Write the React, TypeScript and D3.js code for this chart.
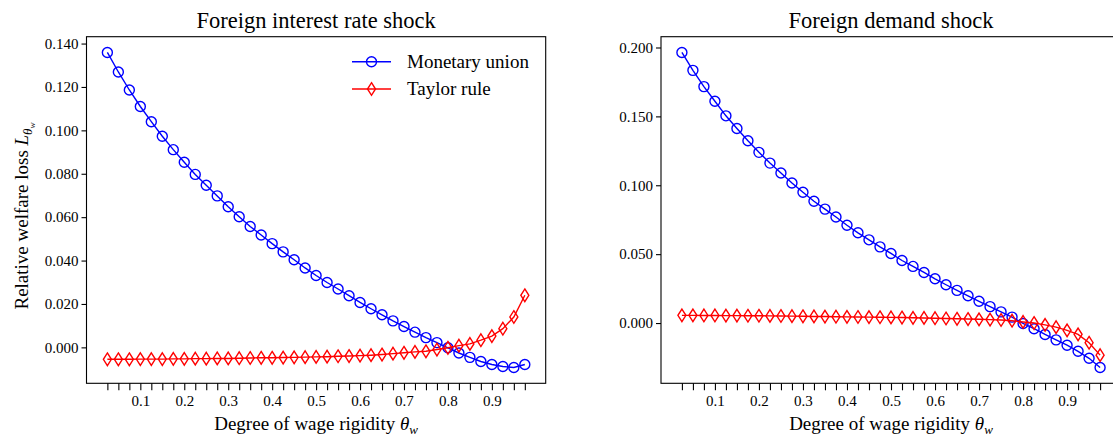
import React, { useRef, useEffect } from "react";
import * as d3 from "d3";

// degree of wage rigidity grid (x values)
const theta = [
  0.025, 0.05, 0.075, 0.1, 0.125, 0.15, 0.175, 0.2, 0.225, 0.25,
  0.275, 0.3, 0.325, 0.35, 0.375, 0.4, 0.425, 0.45, 0.475, 0.5,
  0.525, 0.55, 0.575, 0.6, 0.625, 0.65, 0.675, 0.7, 0.725, 0.75,
  0.775, 0.8, 0.825, 0.85, 0.875, 0.9, 0.925, 0.95, 0.975,
];

// foreign interest rate shock
const rateMonetary = [
  0.1359, 0.1269, 0.1186, 0.111, 0.104, 0.0973, 0.0911, 0.0853, 0.0797, 0.0747,
  0.0698, 0.0648, 0.0602, 0.0557, 0.0518, 0.0478, 0.044, 0.0404, 0.0366, 0.0331,
  0.0299, 0.0269, 0.0238, 0.0207, 0.0178, 0.015, 0.0122, 0.0096, 0.007, 0.0045,
  0.0022, -0.0002, -0.0026, -0.0046, -0.0065, -0.0079, -0.0088, -0.0093, -0.0079,
];
const rateTaylor = [
  -0.0055, -0.0055, -0.0055, -0.0054, -0.0054, -0.0054, -0.0053, -0.0053, -0.0052, -0.0052,
  -0.0051, -0.0051, -0.005, -0.0049, -0.0048, -0.0048, -0.0047, -0.0046, -0.0045, -0.0044,
  -0.0043, -0.0041, -0.004, -0.0038, -0.0036, -0.0033, -0.0029, -0.0025, -0.0021, -0.0018,
  -0.001, -0.0002, 0.0008, 0.0016, 0.0033, 0.0052, 0.0086, 0.014, 0.024,
];

// foreign demand shock
const demandMonetary = [
  0.1964, 0.1834, 0.1716, 0.161, 0.1504, 0.1412, 0.1323, 0.1239, 0.1161, 0.1089,
  0.1017, 0.0949, 0.0884, 0.0827, 0.077, 0.071, 0.0655, 0.0604, 0.0553, 0.0505,
  0.0454, 0.0411, 0.0367, 0.0321, 0.0278, 0.0237, 0.0198, 0.0158, 0.0119, 0.0081,
  0.0043, -0.0003, -0.0041, -0.0083, -0.0122, -0.0161, -0.0205, -0.0256, -0.0323,
];
const demandTaylor = [
  0.0056, 0.0056, 0.0055, 0.0055, 0.0054, 0.0054, 0.0053, 0.0053, 0.0052, 0.0051,
  0.005, 0.0049, 0.0048, 0.0047, 0.0046, 0.0045, 0.0044, 0.0043, 0.0042, 0.0041,
  0.004, 0.0038, 0.0037, 0.0035, 0.0033, 0.0031, 0.0029, 0.0027, 0.0025, 0.0022,
  0.0017, 0.0008, 0.0, -0.0013, -0.003, -0.0053, -0.0082, -0.0143, -0.0233,
];

const xLabelTicks = [0.1, 0.2, 0.3, 0.4, 0.5, 0.6, 0.7, 0.8, 0.9];
const rateYTicks = [0, 0.02, 0.04, 0.06, 0.08, 0.1, 0.12, 0.14];
const demandYTicks = [0, 0.05, 0.1, 0.15, 0.2];
const seriesNames = ["Monetary union", "Taylor rule"];
const panelTitles = ["Foreign interest rate shock", "Foreign demand shock"];

const FONT = "'Liberation Serif', 'Times New Roman', serif";
const BLUE = "#0000ff";
const RED = "#ff0000";
const TOP = 36.7;
const BOTTOM = 383.3;

const diamond = (h, w) => `M0,${-h}L${w},0L0,${h}L${-w},0Z`;

function drawPanel(g, { left, right, title, blue, red, yTicks, legend, yLabel }) {
  const all = blue.concat(red);
  const lo = d3.min(all), hi = d3.max(all);
  const pad = (hi - lo) * 0.05;
  const xPad = (theta[theta.length - 1] - theta[0]) * 0.05;

  const x = d3.scaleLinear()
    .domain([theta[0] - xPad, theta[theta.length - 1] + xPad])
    .range([left, right]);
  const y = d3.scaleLinear().domain([lo - pad, hi + pad]).range([BOTTOM, TOP]);

  // frame
  g.append("rect")
    .attr("x", left).attr("y", TOP)
    .attr("width", right - left).attr("height", BOTTOM - TOP)
    .attr("fill", "none").attr("stroke", "#000").attr("stroke-width", 1.1);

  // y axis
  const yAxis = g.append("g")
    .attr("transform", `translate(${left},0)`)
    .call(d3.axisLeft(y).tickValues(yTicks).tickFormat(d3.format(".3f"))
      .tickSize(5).tickPadding(3));
  yAxis.select(".domain").remove();
  yAxis.selectAll("text").attr("font-family", FONT).attr("font-size", 15).attr("fill", "#000");
  yAxis.selectAll("line").attr("stroke-width", 1.1);

  // x axis: a tick at every grid point, labels only at 0.1 steps
  const xAxis = g.append("g")
    .attr("transform", `translate(0,${BOTTOM})`)
    .call(d3.axisBottom(x).tickValues(theta)
      .tickFormat(d => (xLabelTicks.some(v => Math.abs(v - d) < 1e-9) ? d3.format(".1f")(d) : ""))
      .tickSize(7).tickPadding(5));
  xAxis.select(".domain").remove();
  xAxis.selectAll("text").attr("font-family", FONT).attr("font-size", 15).attr("fill", "#000");
  xAxis.selectAll("line").attr("stroke-width", 1.1);

  // title
  g.append("text")
    .attr("x", (left + right) / 2).attr("y", 28)
    .attr("text-anchor", "middle")
    .attr("font-family", FONT).attr("font-size", 22.5)
    .text(title);

  // x label
  const xl = g.append("text")
    .attr("x", (left + right) / 2).attr("y", 430)
    .attr("text-anchor", "middle")
    .attr("font-family", FONT).attr("font-size", 19);
  xl.append("tspan").text("Degree of wage rigidity ");
  xl.append("tspan").attr("font-style", "italic").text("θ");
  xl.append("tspan").attr("font-style", "italic").attr("font-size", 13).attr("dy", 4).text("w");

  if (yLabel) {
    const yl = g.append("text")
      .attr("transform", `translate(28,${(TOP + BOTTOM) / 2 + 6}) rotate(-90)`)
      .attr("text-anchor", "middle")
      .attr("font-family", FONT).attr("font-size", 19);
    yl.append("tspan").text("Relative welfare loss ");
    yl.append("tspan").attr("font-style", "italic").text("L");
    yl.append("tspan").attr("font-style", "italic").attr("font-size", 13).attr("dy", 4).text("θ");
    yl.append("tspan").attr("font-style", "italic").attr("font-size", 9).attr("dy", 3).text("w");
  }

  const line = d3.line().x((d, i) => x(theta[i])).y(d => y(d));

  // blue: monetary union
  g.append("path").attr("d", line(blue))
    .attr("fill", "none").attr("stroke", BLUE).attr("stroke-width", 1.4);
  g.selectAll(".mu").data(blue).join("circle")
    .attr("class", "mu")
    .attr("cx", (d, i) => x(theta[i])).attr("cy", d => y(d))
    .attr("r", 5).attr("fill", "none").attr("stroke", BLUE).attr("stroke-width", 1.4);

  // red: taylor rule
  g.append("path").attr("d", line(red))
    .attr("fill", "none").attr("stroke", RED).attr("stroke-width", 1.4);
  g.selectAll(".tr").data(red).join("path")
    .attr("class", "tr")
    .attr("transform", (d, i) => `translate(${x(theta[i])},${y(d)})`)
    .attr("d", diamond(6.3, 4))
    .attr("fill", "none").attr("stroke", RED).attr("stroke-width", 1.4);

  if (legend) {
    const rows = [
      { name: seriesNames[0], color: BLUE, circle: true, yy: 61.7 },
      { name: seriesNames[1], color: RED, circle: false, yy: 89 },
    ];
    rows.forEach(r => {
      const lg = g.append("g");
      lg.append("line").attr("x1", 352).attr("x2", 391).attr("y1", r.yy).attr("y2", r.yy)
        .attr("stroke", r.color).attr("stroke-width", 1.4);
      if (r.circle) {
        lg.append("circle").attr("cx", 371.5).attr("cy", r.yy).attr("r", 5)
          .attr("fill", "none").attr("stroke", r.color).attr("stroke-width", 1.4);
      } else {
        lg.append("path").attr("transform", `translate(371.5,${r.yy})`).attr("d", diamond(6.3, 4))
          .attr("fill", "none").attr("stroke", r.color).attr("stroke-width", 1.4);
      }
      lg.append("text").attr("x", 407).attr("y", r.yy + 6)
        .attr("font-family", FONT).attr("font-size", 19).text(r.name);
    });
  }
}

const App = () => {
  const svgRef = useRef(null);

  useEffect(() => {
    const svg = d3.select(svgRef.current);
    svg.selectAll("*").remove();
    drawPanel(svg.append("g"), {
      left: 86.5, right: 545.7, title: panelTitles[0],
      blue: rateMonetary, red: rateTaylor, yTicks: rateYTicks, legend: true, yLabel: true,
    });
    drawPanel(svg.append("g"), {
      left: 661, right: 1121, title: panelTitles[1],
      blue: demandMonetary, red: demandTaylor, yTicks: demandYTicks, legend: false, yLabel: false,
    });
  }, []);

  return (
    <svg
      ref={svgRef}
      width={1113}
      height={438}
      style={{ position: "absolute", left: 0, top: 0, background: "#fff" }}
    />
  );
};

export default App;
